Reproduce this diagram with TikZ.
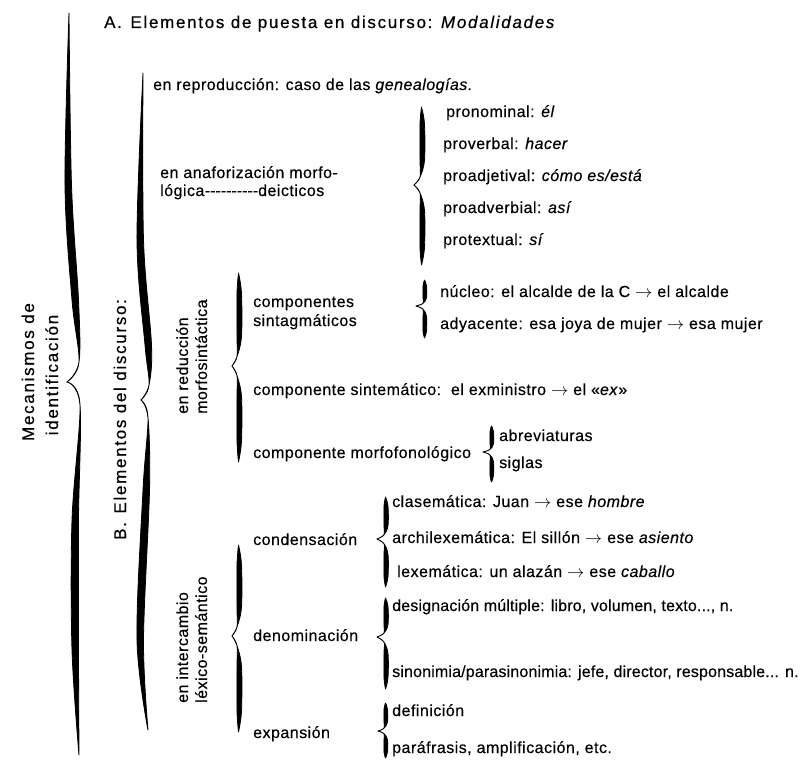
\documentclass[tikz,border=0pt]{standalone}
\usepackage{fontspec}
\setmainfont{Liberation Sans}
\newfontfamily\bodyf{Liberation Sans}[LetterSpace=3,FakeBold=0.3]
\newfontfamily\tightf{Liberation Sans}[LetterSpace=1,FakeBold=0.3]
\newfontfamily\headf{Liberation Sans}[LetterSpace=10,FakeBold=0.5]
% half of a calligraphic brace: end, body1, body2, near-tip, tip, thickness
\newcommand\hbr[6]{%
  \coordinate (hbA) at #2;
  \coordinate (hbB) at #3;
  \filldraw[line width=0.8pt,line join=round]
    plot[smooth,tension=0.55] coordinates {#1 #2 #3 #4 #5}
    -- plot[smooth,tension=0.55] coordinates {#5 #4 ([xshift=#6pt]hbB) ([xshift=#6pt]hbA) #1}
    -- cycle;}
% whole brace: body x, top y, tip y, bottom y, tip depth, thickness
\newcommand\brc[6]{%
  \pgfmathsetmacro\bqha{#3-#2}%
  \pgfmathsetmacro\bqhb{#4-#3}%
  \pgfmathsetmacro\bqua{#2+0.22*\bqha}%
  \pgfmathsetmacro\bqub{#3-0.32*\bqha}%
  \pgfmathsetmacro\bquc{#3-0.1*\bqha}%
  \pgfmathsetmacro\bqla{#4-0.22*\bqhb}%
  \pgfmathsetmacro\bqlb{#3+0.32*\bqhb}%
  \pgfmathsetmacro\bqlc{#3+0.1*\bqhb}%
  \pgfmathsetmacro\bqxe{#1+1.5}%
  \pgfmathsetmacro\bqxt{#1-#5}%
  \hbr{(\bqxe,#2)}{(#1,\bqua)}{(#1,\bqub)}{(#1,\bquc)}{(\bqxt,#3)}{#6}%
  \hbr{(\bqxe,#4)}{(#1,\bqla)}{(#1,\bqlb)}{(#1,\bqlc)}{(\bqxt,#3)}{#6}}
\newcommand\hyp{-\kern0pt}
\newcommand\ar{\ensuremath{\rightarrow}}
\tikzset{
  body/.style={font=\bodyf\fontsize{16}{19}\selectfont, anchor=base west, inner sep=0pt},
  tight/.style={font=\tightf\fontsize{16}{19}\selectfont, anchor=base west, inner sep=0pt},
  head/.style={font=\headf\fontsize{17}{20}\selectfont, anchor=base west, inner sep=0pt},
  vhead/.style={font=\headf\fontsize{17}{20}\selectfont, anchor=base, inner sep=0pt, rotate=90},
  vbody/.style={body, rotate=90}
}
\begin{document}
\begin{tikzpicture}[x=1pt,y=-1pt]
\useasboundingbox (0,0) rectangle (808,760);
\fill[white] (0,0) rectangle (808,760);

% ---- big braces ----
\hbr{(69,13)}{(65,185)}{(72,300)}{(79,362)}{(67,382)}{6.5}
\hbr{(79,755)}{(72,650)}{(72,520)}{(80,405)}{(67,382)}{6.5}
\hbr{(143,73)}{(137,240)}{(145,345)}{(149,385)}{(141,400)}{6.5}
\hbr{(148,730)}{(137,640)}{(143,490)}{(148,418)}{(141,400)}{6.5}

% ---- smaller braces ----
\brc{420}{107}{185}{265}{6}{4.5}
\brc{423}{280}{306}{338}{7}{3.5}
\brc{237}{273}{366}{462}{5}{4.5}
\brc{490}{426}{452}{482}{7}{3.5}
\brc{237}{545}{636}{732}{5}{4.5}
\brc{384}{497}{539}{587}{7}{4}
\brc{384}{598}{637}{689}{7}{4}
\brc{384}{703}{731}{758}{6}{3.5}

% ---- vertical labels ----
\node[vhead] (mec1) at (34,372) {Mecanismos de};
\node[vhead] (mec2) at (58,375) {identificación};
\node[head, rotate=90] (bel) at (126,540) {B.\enspace Elementos del discurso:};
\node[vbody] (red1) at (188,414) {en reducción};
\node[vbody] (red2) at (207,414) {morfosintáctica};
\node[vbody] (int1) at (188,703) {en intercambio};
\node[vbody] (int2) at (207,703) {léxico-semántico};

% ---- heading A ----
\node[head] (ahead) at (104,28) {A.\enspace Elementos de puesta en discurso: \textit{Modalidades}};

% ---- reproduction / anaphora ----
\node[body] (repro) at (153,90) {en reproducción: caso de las \textit{genealogías}.};
\node[body] (ana1) at (160,178) {en anaforización morfo-};
\node[body] (ana2) at (160,196) {lógica\hyp\hyp\hyp\hyp\hyp\hyp\hyp\hyp\hyp\hyp deicticos};
\node[body] (pro1) at (446,117) {pronominal: \textit{él}};
\node[body] (pro2) at (443,149) {proverbal: \textit{hacer}};
\node[body] (pro3) at (443,181) {proadjetival: \textit{cómo es/está}};
\node[body] (pro4) at (443,213) {proadverbial: \textit{así}};
\node[body] (pro5) at (443,245) {protextual: \textit{sí}};

% ---- reducción morfosintáctica ----
\node[body] (comp1) at (253,307) {componentes};
\node[body] (comp2) at (253,326) {sintagmáticos};
\node[body] (nuc) at (440,297) {núcleo: el alcalde de la C \ar{} el alcalde};
\node[body] (ady) at (440,329) {adyacente: esa joya de mujer \ar{} esa mujer};
\node[body] (sinte) at (253,395) {componente sintemático:\ \ el exministro \ar{} el «\textit{ex}»};
\node[body] (morfo) at (253,458) {componente morfofonológico};
\node[body] (abre) at (499,441) {abreviaturas};
\node[body] (sigl) at (499,468) {siglas};

% ---- intercambio léxico-semántico ----
\node[body] (conde) at (253,545) {condensación};
\node[body] (clase) at (392,507) {clasemática: Juan \ar{} ese \textit{hombre}};
\node[body] (archi) at (392,543) {archilexemática: El sillón \ar{} ese \textit{asiento}};
\node[body] (lexe) at (397,577) {lexemática: un alazán \ar{} ese \textit{caballo}};
\node[body] (denom) at (253,641) {denominación};
\node[tight] (desig) at (392,611) {designación múltiple: libro, volumen, texto..., n.};
\node[tight] (sino) at (392,677) {sinonimia/parasinonimia: jefe, director, responsable... n.};
\node[body] (expan) at (253,738) {expansión};
\node[body] (defi) at (392,716) {definición};
\node[body] (para) at (392,753) {paráfrasis, amplificación, etc.};
\end{tikzpicture}
\end{document}
